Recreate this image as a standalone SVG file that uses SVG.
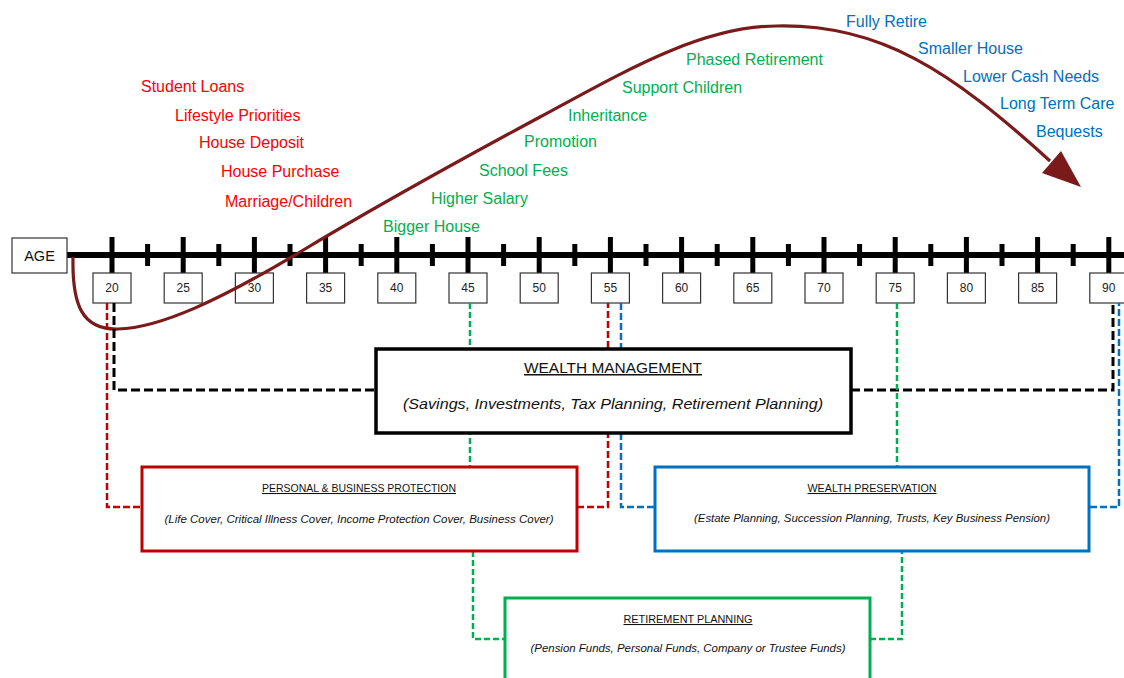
<svg xmlns="http://www.w3.org/2000/svg" xmlns:xlink="http://www.w3.org/1999/xlink" width="1124" height="678" viewBox="0 0 1124 678">
<style>
text{font-family:"Liberation Sans",Arial,sans-serif}
.ev{font-size:16px}
.r{fill:#FF0000}
.g{fill:#00B050}
.b{fill:#0070C0}
.num{font-size:12px;fill:#222;text-anchor:middle}
.nb{fill:#fff;stroke:#333;stroke-width:1.2}
.tk{fill:#000}
.box{fill:#fff}
.ttl{text-anchor:middle;text-decoration:underline;fill:#111}
.sub{text-anchor:middle;font-style:italic;fill:#111}
.dk{fill:none;stroke:#000;stroke-width:3;stroke-dasharray:9 4}
.dr{fill:none;stroke:#C00000;stroke-width:2.5;stroke-dasharray:7 3}
.db{fill:none;stroke:#0070C0;stroke-width:2.5;stroke-dasharray:7 3}
.dg{fill:none;stroke:#00B050;stroke-width:2.5;stroke-dasharray:6 3}
</style>
<defs>
<rect id="maj" x="-2.5" y="237" width="5" height="36"/>
<rect id="min" x="-2.5" y="244" width="5" height="22"/>
</defs>
<rect width="1124" height="678" fill="#fff"/>

<g id="axis">
<rect x="67" y="252" width="1057" height="6" fill="#000"/>
<g class="tk">
<use xlink:href="#maj" x="112"/><use xlink:href="#maj" x="183.2"/><use xlink:href="#maj" x="254.4"/><use xlink:href="#maj" x="325.6"/><use xlink:href="#maj" x="396.8"/><use xlink:href="#maj" x="468"/><use xlink:href="#maj" x="539.2"/><use xlink:href="#maj" x="610.4"/><use xlink:href="#maj" x="681.6"/><use xlink:href="#maj" x="752.8"/><use xlink:href="#maj" x="824"/><use xlink:href="#maj" x="895.2"/><use xlink:href="#maj" x="966.4"/><use xlink:href="#maj" x="1037.6"/><use xlink:href="#maj" x="1108.8"/>
<use xlink:href="#min" x="147.6"/><use xlink:href="#min" x="218.8"/><use xlink:href="#min" x="290"/><use xlink:href="#min" x="361.2"/><use xlink:href="#min" x="432.4"/><use xlink:href="#min" x="503.6"/><use xlink:href="#min" x="574.8"/><use xlink:href="#min" x="646"/><use xlink:href="#min" x="717.2"/><use xlink:href="#min" x="788.4"/><use xlink:href="#min" x="859.6"/><use xlink:href="#min" x="930.8"/><use xlink:href="#min" x="1002"/><use xlink:href="#min" x="1073.2"/>
</g>
</g>

<g id="age">
<rect x="12" y="238" width="55" height="35" class="nb"/>
<text x="39.5" y="261" style="font-size:14.5px;text-anchor:middle;fill:#111">AGE</text>
</g>

<g id="ages">
<g id="a20"><rect class="nb" x="93" y="273" width="38" height="30"/><text class="num" x="112" y="292">20</text></g>
<g id="a25"><rect class="nb" x="164.2" y="273" width="38" height="30"/><text class="num" x="183.2" y="292">25</text></g>
<g id="a30"><rect class="nb" x="235.4" y="273" width="38" height="30"/><text class="num" x="254.4" y="292">30</text></g>
<g id="a35"><rect class="nb" x="306.6" y="273" width="38" height="30"/><text class="num" x="325.6" y="292">35</text></g>
<g id="a40"><rect class="nb" x="377.8" y="273" width="38" height="30"/><text class="num" x="396.8" y="292">40</text></g>
<g id="a45"><rect class="nb" x="449" y="273" width="38" height="30"/><text class="num" x="468" y="292">45</text></g>
<g id="a50"><rect class="nb" x="520.2" y="273" width="38" height="30"/><text class="num" x="539.2" y="292">50</text></g>
<g id="a55"><rect class="nb" x="591.4" y="273" width="38" height="30"/><text class="num" x="610.4" y="292">55</text></g>
<g id="a60"><rect class="nb" x="662.6" y="273" width="38" height="30"/><text class="num" x="681.6" y="292">60</text></g>
<g id="a65"><rect class="nb" x="733.8" y="273" width="38" height="30"/><text class="num" x="752.8" y="292">65</text></g>
<g id="a70"><rect class="nb" x="805" y="273" width="38" height="30"/><text class="num" x="824" y="292">70</text></g>
<g id="a75"><rect class="nb" x="876.2" y="273" width="38" height="30"/><text class="num" x="895.2" y="292">75</text></g>
<g id="a80"><rect class="nb" x="947.4" y="273" width="38" height="30"/><text class="num" x="966.4" y="292">80</text></g>
<g id="a85"><rect class="nb" x="1018.6" y="273" width="38" height="30"/><text class="num" x="1037.6" y="292">85</text></g>
<g id="a90"><rect class="nb" x="1089.8" y="273" width="38" height="30"/><text class="num" x="1108.8" y="292">90</text></g>
</g>

<g id="events" class="ev">
<text class="r" x="141" y="92">Student Loans</text>
<text class="r" x="175" y="121">Lifestyle Priorities</text>
<text class="r" x="199" y="148">House Deposit</text>
<text class="r" x="221" y="177">House Purchase</text>
<text class="r" x="225" y="207">Marriage/Children</text>
<text class="g" x="383" y="232">Bigger House</text>
<text class="g" x="431" y="204">Higher Salary</text>
<text class="g" x="479" y="176">School Fees</text>
<text class="g" x="524" y="147">Promotion</text>
<text class="g" x="568" y="121">Inheritance</text>
<text class="g" x="622" y="93">Support Children</text>
<text class="g" x="686" y="65">Phased Retirement</text>
<text class="b" x="846" y="27">Fully Retire</text>
<text class="b" x="918" y="54">Smaller House</text>
<text class="b" x="963" y="82">Lower Cash Needs</text>
<text class="b" x="1000" y="109">Long Term Care</text>
<text class="b" x="1036" y="137">Bequests</text>
</g>

<g id="curve">
<path d="M73,257 C72,305 82,330 118,329 C160,328 220,300 300,252 C380,204 460,160 540,117 C620,74 700,26 777,26 C880,24 950,70 1050,161" fill="none" stroke="#7A1A1A" stroke-width="3.2"/>
<polygon points="1081,187 1042,173 1061,151" fill="#7A1A1A"/>
</g>

<g id="connectors">
<path class="dk" d="M114,303 V390 H376"/>
<path class="dk" d="M851,390 H1113 V303"/>
<path class="dr" d="M107,303 V507 H142"/>
<path class="dr" d="M577,507 H608 V303"/>
<path class="db" d="M621,303 V507 H655"/>
<path class="db" d="M1090,507 H1119 V303"/>
<path class="dg" d="M470,303 V467"/>
<path class="dg" d="M473,551 V639 H505"/>
<path class="dg" d="M897,303 V467"/>
<path class="dg" d="M870,639 H902 V551"/>
</g>

<g id="wealth-management">
<rect class="box" x="376" y="349" width="475" height="84" stroke="#000" stroke-width="3.5"/>
<text class="ttl" x="613" y="373" style="font-size:15px" textLength="178" lengthAdjust="spacingAndGlyphs">WEALTH MANAGEMENT</text>
<text class="sub" x="613" y="409" style="font-size:15px" textLength="420" lengthAdjust="spacingAndGlyphs">(Savings, Investments, Tax Planning, Retirement Planning)</text>
</g>

<g id="personal-protection">
<rect class="box" x="142" y="467" width="435" height="84" stroke="#C00000" stroke-width="3"/>
<text class="ttl" x="359" y="492" style="font-size:10.5px" textLength="194" lengthAdjust="spacingAndGlyphs">PERSONAL &amp; BUSINESS PROTECTION</text>
<text class="sub" x="359" y="523" style="font-size:10.5px" textLength="389" lengthAdjust="spacingAndGlyphs">(Life Cover, Critical Illness Cover, Income Protection Cover, Business Cover)</text>
</g>

<g id="wealth-preservation">
<rect class="box" x="655" y="467" width="434" height="84" stroke="#0070C0" stroke-width="3"/>
<text class="ttl" x="872" y="492" style="font-size:10.5px" textLength="129" lengthAdjust="spacingAndGlyphs">WEALTH PRESERVATION</text>
<text class="sub" x="872" y="522" style="font-size:10.5px" textLength="356" lengthAdjust="spacingAndGlyphs">(Estate Planning, Succession Planning, Trusts, Key Business Pension)</text>
</g>

<g id="retirement-planning">
<rect class="box" x="505" y="598" width="365" height="100" stroke="#00B050" stroke-width="3"/>
<text class="ttl" x="688" y="623" style="font-size:10.5px" textLength="129" lengthAdjust="spacingAndGlyphs">RETIREMENT PLANNING</text>
<text class="sub" x="688" y="652" style="font-size:10.5px" textLength="315" lengthAdjust="spacingAndGlyphs">(Pension Funds, Personal Funds, Company or Trustee Funds)</text>
</g>
</svg>
